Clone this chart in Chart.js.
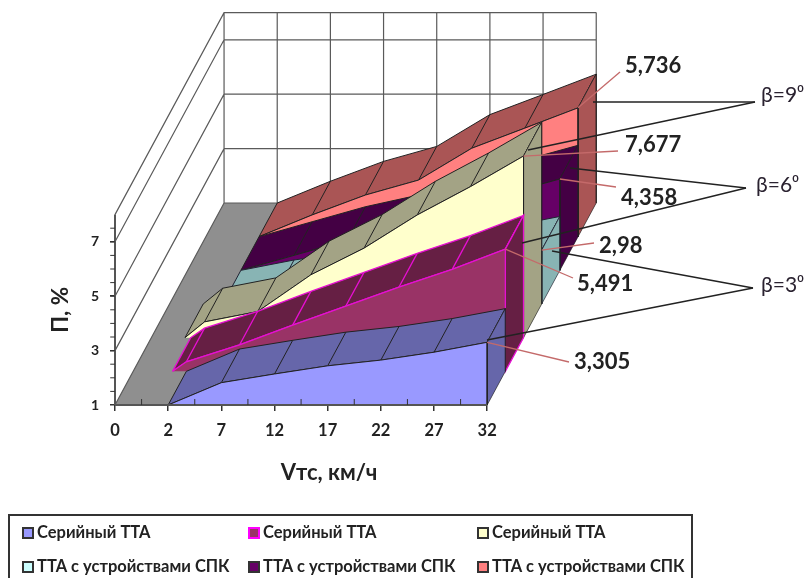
<!DOCTYPE html>
<html>
<head>
<meta charset="utf-8">
<script src="https://cdn.jsdelivr.net/npm/chart.js@4"></script>
<style>
  html, body { margin: 0; background: #fff; overflow: hidden; }
  #wrap { position: relative; width: 809px; height: 578px; }
  #legend { position: absolute; left: 8px; top: 514px; width: 681px; height: 70px; border: 2px solid #333; }
  .item { position: absolute; font: bold 16.5px Lato, "Noto Sans", sans-serif; color: #222; white-space: nowrap; line-height: 16px; }
  .item i { display: inline-block; width: 8px; height: 8px; border: 2px solid #333; margin-right: 3px; vertical-align: -1px; }
</style>
</head>
<body>
<div id="wrap">
  <canvas id="chart1" width="809" height="578"></canvas>
  <div id="legend"></div>
</div>
<script>
// --- Data ---
const categories = ["0", "2", "7", "12", "17", "22", "27", "32"];
const yTicks = [1, 3, 5, 7];
const seriesNames = ["Серийный ТТА", "Серийный ТТА", "Серийный ТТА", "ТТА с устройствами СПК", "ТТА с устройствами СПК", "ТТА с устройствами СПК"];

const serial3 = [0, 1, 1.82, 2.14, 2.44, 2.65, 2.94, 3.305];
const serial6 = [0, 1.35, 1.97, 2.7, 3.4, 4.1, 4.75, 5.491];
const serial9 = [0, 1.58, 1.96, 3.31, 4.29, 5.51, 6.55, 7.677];
const spk3 = [0, 1, 1.38, 1.65, 1.95, 2.25, 2.6, 2.98];
const spk6 = [0, 1, 1.55, 2.1, 2.53, 3.2, 3.82, 4.358];
const spk9 = [0, 1, 1.8, 2.53, 3.08, 4.25, 4.99, 5.736];

const allValues = [serial3, serial6, serial9, spk3, spk6, spk9];
const frontColors = ["#9999ff", "#993366", "#ffffcc", "#ccffff", "#660066", "#ff8080"];
const sideColors = ["#6666aa", "#661f44", "#a3a385", "#88b4b4", "#440044", "#aa5555"];
const edgeColors = ["#222", "#e60fd2", "#222", "#223", "#222", "#222"];
const edgeWidths = [1, 1.3, 1, 1, 1, 1];

// --- 3D look: depth is just a shift in data units ---
const yMin = 1, yMax = 8;
const pxX = 53.14, pxY = 27.2;
const depthX = 109 / pxX, depthY = 202 / pxY;
const slices = allValues.length;
const xLast = categories.length - 1;

function at(i, v, depth) {
  return { x: i + depth * depthX, y: v + depth * depthY };
}

// values under the axis minimum are cut where the line crosses it
function visibleProfile(vals) {
  const out = [];
  vals.forEach((v, i) => {
    if (v < yMin) return;
    if (i > 0 && vals[i - 1] < yMin && v > yMin) {
      out.push([i - (v - yMin) / (v - vals[i - 1]), yMin]);
    }
    out.push([i, v]);
  });
  return out;
}

const datasets = [];
let nextOrder = 1000;

function addShape(points, fill, stroke, width) {
  datasets.push({
    data: points, polyFill: fill, borderColor: stroke || "transparent", borderWidth: width || 0,
    showLine: true, pointRadius: 0, pointHitRadius: 0, clip: false, tension: 0, order: nextOrder--
  });
}

function closed(points) {
  return points.concat([points[0]]);
}

// several separate strokes in one dataset, broken by gaps
function strokes(list) {
  const out = [];
  list.forEach(s => { out.push(...s, { x: null, y: null }); });
  return out;
}

// --- Floor and walls ---
addShape(closed([at(0, yMin, 0), at(xLast, yMin, 0), at(xLast, yMin, 1), at(0, yMin, 1)]), "#8f8f8f");

const wallLevels = yTicks.concat([yMax]);
const backLines = [];
wallLevels.forEach(v => {
  backLines.push([at(0, v, 0), at(0, v, 1), at(xLast, v, 1)]);
});
categories.forEach((c, i) => {
  backLines.push([at(i, yMin, 1), at(i, yMax, 1)]);
});
addShape(strokes(backLines), null, "#5a5a5a", 1.2);

// --- Series, back to front: top ribbon, cross lines, right side, front ---
for (let k = slices - 1; k >= 0; k--) {
  const d0 = k / slices, d1 = (k + 1) / slices;
  const profile = visibleProfile(allValues[k]);
  const lastV = allValues[k][xLast];

  const frontEdge = profile.map(p => at(p[0], p[1], d0));
  const backEdge = profile.map(p => at(p[0], p[1], d1));
  addShape(closed(frontEdge.concat(backEdge.slice().reverse())), sideColors[k], edgeColors[k], edgeWidths[k]);

  const cross = profile.filter(p => p[1] > yMin).map(p => [at(p[0], p[1], d0), at(p[0], p[1], d1)]);
  addShape(strokes(cross), null, edgeColors[k], edgeWidths[k]);

  addShape(closed([at(xLast, lastV, d0), at(xLast, lastV, d1), at(xLast, yMin, d1), at(xLast, yMin, d0)]),
    sideColors[k], edgeColors[k], edgeWidths[k] > 1 ? edgeWidths[k] : 0.6);

  const base = [at(profile[profile.length - 1][0], yMin, d0), at(profile[0][0], yMin, d0)];
  addShape(closed(frontEdge.concat(base)), frontColors[k]);
  addShape(frontEdge.concat([at(xLast, yMin, d0)]), null, edgeColors[k], edgeWidths[k]);
}

// --- Axis lines and the small ticks between labels ---
const axisLines = [[at(0, yMin, 0), at(xLast, yMin, 0)], [at(0, yMin, 0), at(0, yMax, 0)]];
addShape(strokes(axisLines), null, "#555", 2);

const minorTicks = [];
categories.slice(1).forEach((c, i) => {
  minorTicks.push([{ x: i + 0.5, y: yMin }, { x: i + 0.5, y: yMin + 0.22 }]);
});
for (let v = yMin + 0.5; v < yMax; v += 0.5) {
  minorTicks.push([{ x: -0.09, y: v }, { x: 0, y: v }]);
}
addShape(strokes(minorTicks), null, "#333", 1);

// --- Annotations ---
const valueLabelPos = [
  [5, 625, 66, 620, 72], [2, 625, 145, 618, 151], [4, 621, 198, 616, 187],
  [3, 599, 246, 594, 243], [1, 577, 284, 573, 278], [0, 574, 362, 569, 362]
];
const betaLabels = [
  ["β=9⁰", 761, 95, 755, 102, [[593, 102], [528, 150]]],
  ["β=6⁰", 756, 185, 746, 188, [[570, 168], [522, 243]]],
  ["β=3⁰", 761, 285, 753, 288, [[552, 251], [487, 340]]]
];

const shapeFill = {
  id: "shapeFill",
  beforeDatasetDraw(chart, args) {
    const color = chart.data.datasets[args.index].polyFill;
    if (!color) return;
    const ctx = chart.ctx;
    ctx.save();
    ctx.beginPath();
    args.meta.data.forEach((pt, i) => {
      if (i === 0) ctx.moveTo(pt.x, pt.y); else ctx.lineTo(pt.x, pt.y);
    });
    ctx.closePath();
    ctx.fillStyle = color;
    ctx.fill();
    ctx.restore();
  }
};

const notes = {
  id: "notes",
  afterDatasetsDraw(chart) {
    const ctx = chart.ctx;
    const sx = chart.scales.x, sy = chart.scales.y;
    ctx.save();
    ctx.textBaseline = "middle";
    ctx.textAlign = "left";

    ctx.strokeStyle = "#c46a6a";
    ctx.lineWidth = 1.3;
    valueLabelPos.forEach(l => {
      const vals = allValues[l[0]];
      const end = at(xLast, vals[xLast], l[0] / slices);
      ctx.beginPath();
      ctx.moveTo(sx.getPixelForValue(end.x), sy.getPixelForValue(end.y));
      ctx.lineTo(l[3], l[4]);
      ctx.stroke();
    });

    ctx.strokeStyle = "#222";
    ctx.lineWidth = 1.4;
    betaLabels.forEach(b => {
      b[5].forEach(p => {
        ctx.beginPath();
        ctx.moveTo(p[0], p[1]);
        ctx.lineTo(b[3], b[4]);
        ctx.stroke();
      });
    });

    ctx.fillStyle = "#222";
    ctx.font = "bold 22px Lato, 'Noto Sans', sans-serif";
    valueLabelPos.forEach(l => {
      const vals = allValues[l[0]];
      ctx.fillText(String(vals[xLast]).replace(".", ","), l[1], l[2]);
    });

    ctx.fillStyle = "#2a2230";
    ctx.font = "21px Lato, 'Noto Sans', sans-serif";
    betaLabels.forEach(b => ctx.fillText(b[0], b[1], b[2]));
    ctx.restore();
  }
};

// --- Chart ---
const ctx1 = document.getElementById("chart1");

new Chart(ctx1, {
  type: "scatter",
  data: { datasets: datasets },
  plugins: [shapeFill, notes],
  options: {
    responsive: false,
    animation: false,
    events: [],
    layout: { padding: { left: 47, right: 266, top: 214.6, bottom: 92 } },
    plugins: { legend: { display: false }, tooltip: { enabled: false } },
    scales: {
      x: {
        type: "linear",
        bounds: "data",
        // set here and not as min/max, so points past the end are not trimmed
        afterDataLimits(s) { s.min = 0; s.max = 8.05; },
        afterBuildTicks(s) { s.ticks = categories.map((c, i) => ({ value: i })); },
        afterFit(s) { s.height = 81; },
        border: { display: false },
        grid: { drawOnChartArea: false, tickLength: 6, color: "#333", lineWidth: 1.5 },
        ticks: {
          autoSkip: false, maxRotation: 0, padding: 10, color: "#222",
          font: { family: "Lato, 'Noto Sans', sans-serif", weight: "bold", size: 16.5 },
          callback: v => categories[v]
        },
        title: {
          display: true, text: "Vтс, км/ч", color: "#222", padding: { top: 0, bottom: 0 },
          font: { family: "Lato, 'Noto Sans', sans-serif", weight: "bold", size: 22 }
        }
      },
      y: {
        type: "linear",
        min: yMin,
        max: yMax,
        afterBuildTicks(s) { s.ticks = yTicks.map(v => ({ value: v })); },
        afterFit(s) { s.width = 68; },
        border: { display: false },
        grid: { drawOnChartArea: false, tickLength: 5, color: "#333", lineWidth: 1.5 },
        ticks: {
          autoSkip: false, padding: 11, color: "#222",
          font: { family: "Lato, 'Noto Sans', sans-serif", weight: "bold", size: 14 }
        },
        title: {
          display: true, text: "П, %", color: "#222", padding: { top: 0, bottom: 0 },
          font: { family: "Lato, 'Noto Sans', sans-serif", weight: "bold", size: 22.5 }
        }
      }
    }
  }
});

// --- Legend, three columns by two rows as in the picture ---
const legendCols = [12, 238, 467];
const legendRows = [8, 42];
const legendBox = document.getElementById("legend");
seriesNames.forEach((name, k) => {
  const el = document.createElement("div");
  el.className = "item";
  el.style.left = legendCols[k % 3] + "px";
  el.style.top = legendRows[Math.floor(k / 3)] + "px";
  const sw = document.createElement("i");
  sw.style.background = frontColors[k];
  sw.style.borderColor = k === 1 ? "#ff00ff" : "#333";
  el.appendChild(sw);
  el.appendChild(document.createTextNode(name));
  legendBox.appendChild(el);
});
</script>
</body>
</html>
